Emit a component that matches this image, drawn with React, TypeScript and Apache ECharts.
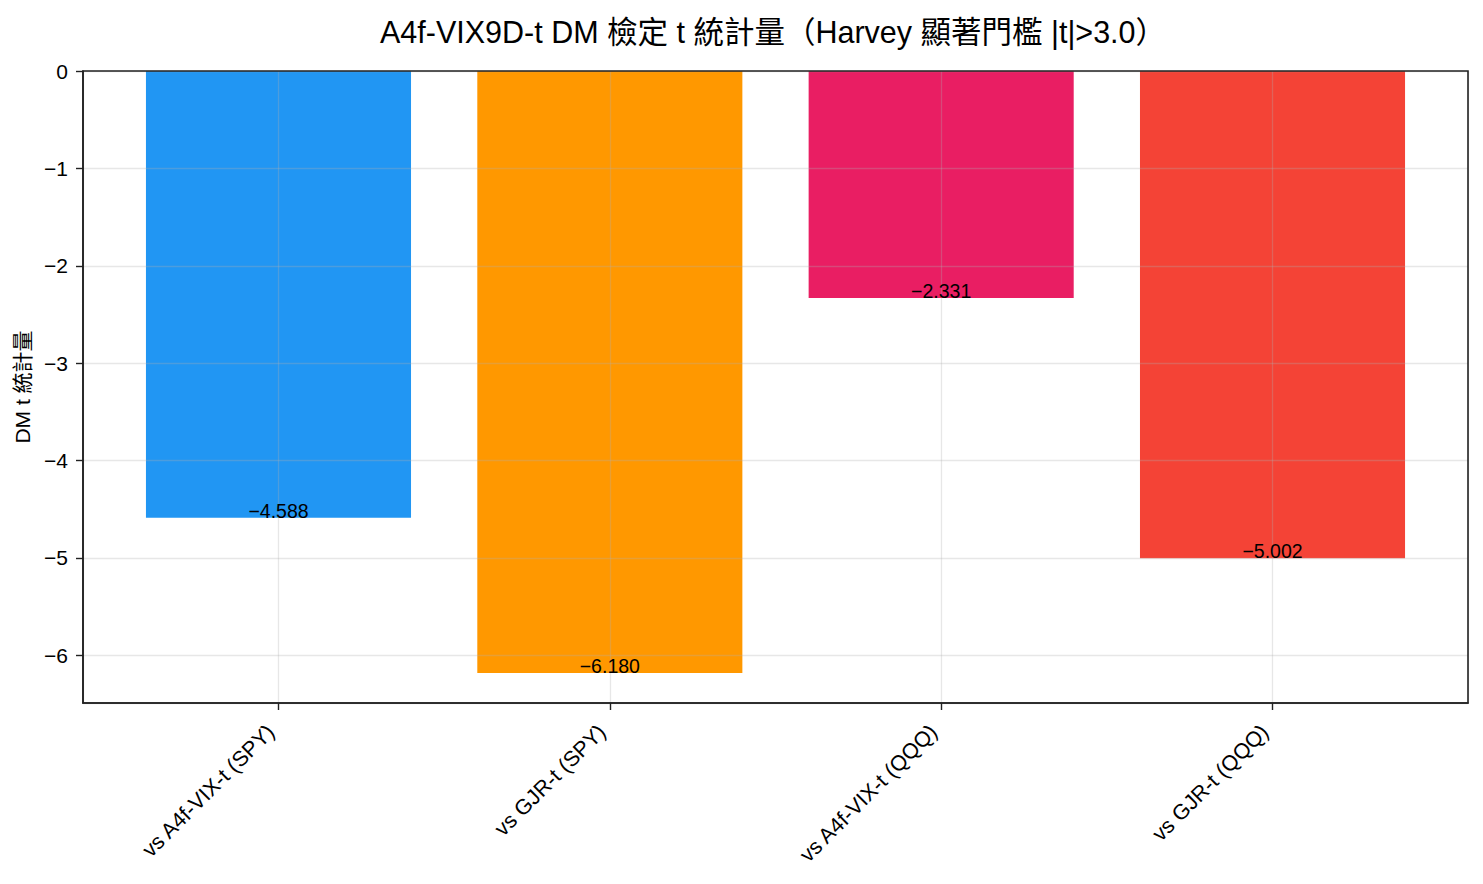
import React, { useEffect, useRef } from "react";
import * as echarts from "echarts";

const categories = ["vs A4f-VIX-t (SPY)", "vs GJR-t (SPY)", "vs A4f-VIX-t (QQQ)", "vs GJR-t (QQQ)"];
const tValues = [-4.588, -6.18, -2.331, -5.002];
const barColors = ["#2196F3", "#FF9800", "#E91E63", "#F44336"];
const titleText = "A4f-VIX9D-t DM 檢定 t 統計量（Harvey 顯著門檻 |t|>3.0）";
const yAxisName = "DM t 統計量";
const xMin = -0.59;
const xMax = 3.59;
const yMin = -6.489;
const yMax = 0;

const fontFamily = "'Liberation Sans', 'Noto Sans CJK TC', sans-serif";
const fmtMinus = (v: number, digits?: number) => {
  const s = digits === undefined ? String(Math.abs(v)) : Math.abs(v).toFixed(digits);
  return v < 0 ? "\u2212" + s : s;
};

export default function App() {
  const ref = useRef<HTMLDivElement>(null);
  useEffect(() => {
    if (!ref.current) return;
    const chart = echarts.init(ref.current, undefined, { renderer: "svg" });
    const data = tValues.map((v, i) => [i, v]);
    const gridColor = "rgba(176,176,176,0.3)";
    chart.setOption({
      animation: false,
      textStyle: { fontFamily },
      title: {
        text: titleText,
        left: 768,
        top: 12,
        textAlign: "center",
        textStyle: { fontSize: 30.5, fontWeight: "normal", color: "#000", fontFamily },
      },
      grid: {
        left: 83,
        right: 15,
        top: 71,
        bottom: 181,
        show: true,
        borderColor: "#222",
        borderWidth: 1.6,
        backgroundColor: "transparent",
        z: 6,
      },
      xAxis: {
        type: "value",
        min: xMin,
        max: xMax,
        minInterval: 1,
        maxInterval: 1,
        z: 5,
        axisLine: { show: true, onZero: false, lineStyle: { color: "#222", width: 1.6 } },
        axisTick: { show: true, length: 7, lineStyle: { color: "#222", width: 1.4 } },
        axisLabel: {
          rotate: 45,
          fontSize: 21.5,
          color: "#000",
          margin: 33,
          align: "right",
          verticalAlign: "bottom",
          showMinLabel: false,
          showMaxLabel: false,
          formatter: (v: number) => (Number.isInteger(v) && categories[v] ? categories[v] : ""),
        },
        splitLine: { show: true, lineStyle: { color: gridColor, width: 1.3 } },
      },
      yAxis: {
        type: "value",
        min: yMin,
        max: yMax,
        minInterval: 1,
        maxInterval: 1,
        z: 5,
        name: yAxisName,
        nameLocation: "middle",
        nameGap: 50,
        nameTextStyle: { fontSize: 21, color: "#000", fontFamily },
        axisLine: { show: true, onZero: false, lineStyle: { color: "#222", width: 1.6 } },
        axisTick: { show: true, length: 7, lineStyle: { color: "#222", width: 1.4 } },
        axisLabel: {
          fontSize: 21,
          color: "#000",
          margin: 15,
          showMinLabel: false,
          formatter: (v: number) => fmtMinus(v),
        },
        splitLine: { show: true, lineStyle: { color: gridColor, width: 1.3 } },
      },
      series: [
        {
          type: "custom",
          z: 2,
          data,
          encode: { x: 0, y: 1 },
          renderItem: (params: any, api: any) => {
            const i = api.value(0);
            const v = api.value(1);
            const p0 = api.coord([i - 0.4, 0]);
            const p1 = api.coord([i + 0.4, v]);
            return {
              type: "rect",
              shape: { x: p0[0], y: p0[1], width: p1[0] - p0[0], height: p1[1] - p0[1] },
              style: { fill: barColors[i] },
            };
          },
        },
        {
          type: "custom",
          z: 10,
          data,
          encode: { x: 0, y: 1 },
          renderItem: (params: any, api: any) => {
            const i = api.value(0);
            const v = api.value(1);
            const p = api.coord([i, v]);
            return {
              type: "text",
              x: p[0],
              y: p[1] + 3,
              style: {
                text: fmtMinus(v, 3),
                textAlign: "center",
                textVerticalAlign: "bottom",
                fontSize: 19.5,
                fill: "#000",
                fontFamily,
              },
            };
          },
        },
      ],
    });
    return () => chart.dispose();
  }, []);
  return (
    <div
      ref={ref}
      style={{ position: "absolute", left: 0, top: 0, width: 1483, height: 884, background: "#fff" }}
    />
  );
}
